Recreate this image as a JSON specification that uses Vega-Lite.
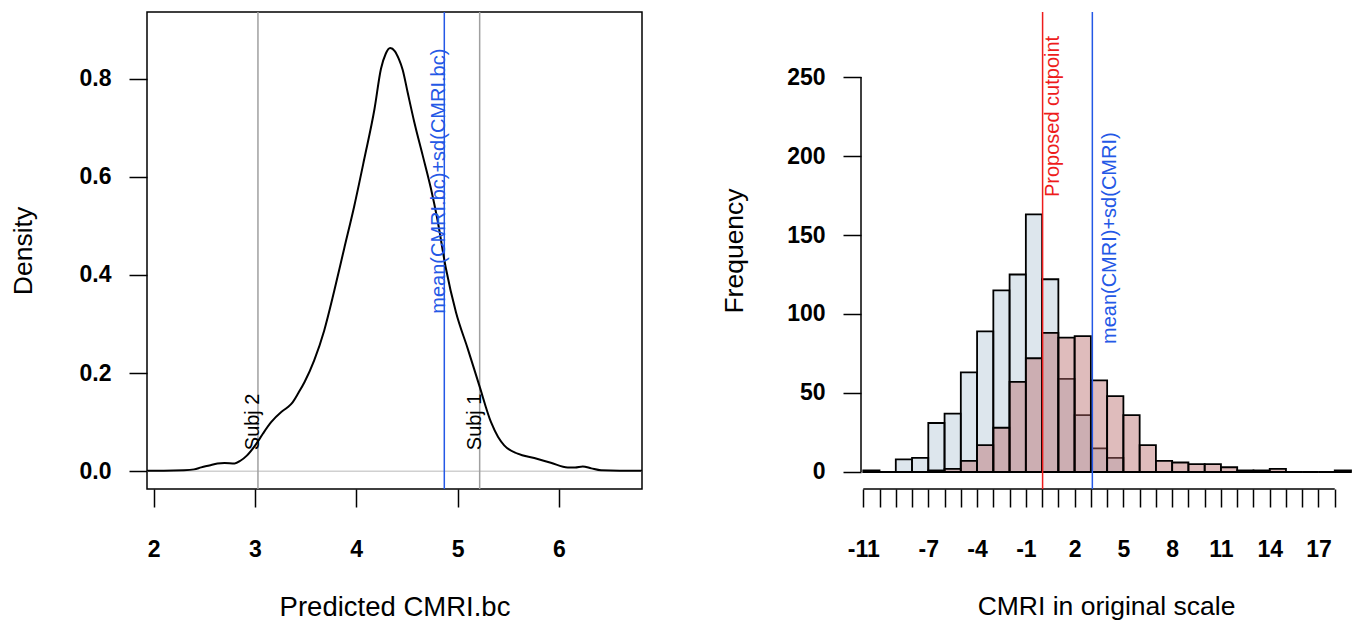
{
  "$schema": "https://vega.github.io/schema/vega-lite/v6.json",
  "padding": {"left": 9, "top": 10, "right": 0, "bottom": 0},
  "spacing": 74,
  "background": "white",
  "config": {
    "font": "Liberation Sans",
    "axis": {
      "labelFont": "Liberation Sans", "labelFontWeight": "bold", "labelFontSize": 23, "labelColor": "black",
      "titleFont": "Liberation Sans", "titleFontWeight": "normal", "titleFontSize": 26.5, "titleColor": "black",
      "tickColor": "black", "domainColor": "black", "tickSize": 18, "tickWidth": 1.5, "domainWidth": 1.5,
      "labelPadding": 18, "grid": false
    }
  },
  "datasets": {
    "density": [
      {"x": 1.935, "y": 0.001}, {"x": 2.1, "y": 0.001}, {"x": 2.3, "y": 0.002}, {"x": 2.4, "y": 0.004},
      {"x": 2.47, "y": 0.008}, {"x": 2.55, "y": 0.012}, {"x": 2.63, "y": 0.016}, {"x": 2.7, "y": 0.017},
      {"x": 2.8, "y": 0.016}, {"x": 2.86, "y": 0.022}, {"x": 2.92, "y": 0.032}, {"x": 3.01, "y": 0.055},
      {"x": 3.08, "y": 0.077}, {"x": 3.16, "y": 0.1}, {"x": 3.26, "y": 0.121}, {"x": 3.32, "y": 0.13},
      {"x": 3.37, "y": 0.14}, {"x": 3.43, "y": 0.16}, {"x": 3.49, "y": 0.182}, {"x": 3.585, "y": 0.226},
      {"x": 3.684, "y": 0.287}, {"x": 3.78, "y": 0.365}, {"x": 3.88, "y": 0.453}, {"x": 3.98, "y": 0.54},
      {"x": 4.08, "y": 0.637}, {"x": 4.18, "y": 0.738}, {"x": 4.244, "y": 0.82}, {"x": 4.29, "y": 0.85},
      {"x": 4.335, "y": 0.862}, {"x": 4.38, "y": 0.856}, {"x": 4.42, "y": 0.84}, {"x": 4.458, "y": 0.818},
      {"x": 4.507, "y": 0.772}, {"x": 4.573, "y": 0.711}, {"x": 4.655, "y": 0.644}, {"x": 4.737, "y": 0.576},
      {"x": 4.8, "y": 0.514}, {"x": 4.885, "y": 0.413}, {"x": 4.984, "y": 0.324}, {"x": 5.1, "y": 0.25},
      {"x": 5.214, "y": 0.175}, {"x": 5.33, "y": 0.1}, {"x": 5.4, "y": 0.07}, {"x": 5.46, "y": 0.053},
      {"x": 5.593, "y": 0.036}, {"x": 5.757, "y": 0.027}, {"x": 5.92, "y": 0.0175}, {"x": 6.087, "y": 0.008},
      {"x": 6.16, "y": 0.008}, {"x": 6.235, "y": 0.01}, {"x": 6.32, "y": 0.006}, {"x": 6.415, "y": 0.002},
      {"x": 6.6, "y": 0.001}, {"x": 6.82, "y": 0.001}
    ],
    "zero": [{"y": 0}],
    "lvlines": [
      {"x": 3.03, "col": "#a0a0a0"},
      {"x": 5.218, "col": "#a0a0a0"},
      {"x": 4.869, "col": "#2458e6"}
    ],
    "ltext": [
      {"x": 3.03, "y": 0.043, "label": "Subj 2", "col": "black"},
      {"x": 5.218, "y": 0.043, "label": "Subj 1", "col": "black"},
      {"x": 4.869, "y": 0.321, "label": "mean(CMRI.bc)+sd(CMRI.bc)", "col": "#2458e6"}
    ],
    "hist": [
      {"x": -11, "x2": -10, "y": 1, "g": "all"}, {"x": -10, "x2": -9, "y": 0, "g": "all"},
      {"x": -9, "x2": -8, "y": 8, "g": "all"}, {"x": -8, "x2": -7, "y": 9, "g": "all"},
      {"x": -7, "x2": -6, "y": 31, "g": "all"}, {"x": -6, "x2": -5, "y": 37, "g": "all"},
      {"x": -5, "x2": -4, "y": 63, "g": "all"}, {"x": -4, "x2": -3, "y": 89, "g": "all"},
      {"x": -3, "x2": -2, "y": 115, "g": "all"}, {"x": -2, "x2": -1, "y": 125, "g": "all"},
      {"x": -1, "x2": 0, "y": 163, "g": "all"}, {"x": 0, "x2": 1, "y": 122, "g": "all"},
      {"x": 1, "x2": 2, "y": 59, "g": "all"}, {"x": 2, "x2": 3, "y": 36, "g": "all"},
      {"x": 3, "x2": 4, "y": 15, "g": "all"}, {"x": 4, "x2": 5, "y": 9, "g": "all"},
      {"x": 5, "x2": 6, "y": 0, "g": "all"}, {"x": 6, "x2": 7, "y": 0, "g": "all"},
      {"x": 7, "x2": 8, "y": 0, "g": "all"}, {"x": 8, "x2": 9, "y": 0, "g": "all"},
      {"x": 9, "x2": 10, "y": 0, "g": "all"}, {"x": 10, "x2": 11, "y": 0, "g": "all"},
      {"x": 11, "x2": 12, "y": 0, "g": "all"}, {"x": 12, "x2": 13, "y": 0, "g": "all"},
      {"x": 13, "x2": 14, "y": 0, "g": "all"}, {"x": 14, "x2": 15, "y": 0, "g": "all"},
      {"x": 15, "x2": 16, "y": 0, "g": "all"}, {"x": 16, "x2": 17, "y": 0, "g": "all"},
      {"x": 17, "x2": 18, "y": 0, "g": "all"}, {"x": 18, "x2": 19, "y": 0, "g": "all"},
      {"x": -11, "x2": -10, "y": 0, "g": "pred"}, {"x": -10, "x2": -9, "y": 0, "g": "pred"},
      {"x": -9, "x2": -8, "y": 0, "g": "pred"}, {"x": -8, "x2": -7, "y": 0, "g": "pred"},
      {"x": -7, "x2": -6, "y": 1, "g": "pred"}, {"x": -6, "x2": -5, "y": 2, "g": "pred"},
      {"x": -5, "x2": -4, "y": 7, "g": "pred"}, {"x": -4, "x2": -3, "y": 17, "g": "pred"},
      {"x": -3, "x2": -2, "y": 28, "g": "pred"}, {"x": -2, "x2": -1, "y": 57, "g": "pred"},
      {"x": -1, "x2": 0, "y": 72, "g": "pred"}, {"x": 0, "x2": 1, "y": 88, "g": "pred"},
      {"x": 1, "x2": 2, "y": 85, "g": "pred"}, {"x": 2, "x2": 3, "y": 86, "g": "pred"},
      {"x": 3, "x2": 4, "y": 58, "g": "pred"}, {"x": 4, "x2": 5, "y": 48, "g": "pred"},
      {"x": 5, "x2": 6, "y": 36, "g": "pred"}, {"x": 6, "x2": 7, "y": 17, "g": "pred"},
      {"x": 7, "x2": 8, "y": 7, "g": "pred"}, {"x": 8, "x2": 9, "y": 6, "g": "pred"},
      {"x": 9, "x2": 10, "y": 5, "g": "pred"}, {"x": 10, "x2": 11, "y": 5, "g": "pred"},
      {"x": 11, "x2": 12, "y": 3, "g": "pred"}, {"x": 12, "x2": 13, "y": 1, "g": "pred"},
      {"x": 13, "x2": 14, "y": 1, "g": "pred"}, {"x": 14, "x2": 15, "y": 2, "g": "pred"},
      {"x": 15, "x2": 16, "y": 0, "g": "pred"}, {"x": 16, "x2": 17, "y": 0, "g": "pred"},
      {"x": 17, "x2": 18, "y": 0, "g": "pred"}, {"x": 18, "x2": 19, "y": 1, "g": "pred"}
    ],
    "yaxisline": [{"x": -11.14, "y": 0, "y2": 250}],
    "xaxisline": [{"x": -11, "x2": 18, "y": -10.76}],
    "rvlines": [
      {"x": 0.03, "col": "#ee1c1c"},
      {"x": 3.09, "col": "#2458e6"}
    ],
    "rtext1": [{"x": 0.03, "y": 174, "label": "Proposed cutpoint", "col": "#ee1c1c"}],
    "rtext2": [{"x": 3.09, "y": 81, "label": "mean(CMRI)+sd(CMRI)", "col": "#2458e6"}]
  },
  "hconcat": [
    {
      "width": 495,
      "height": 477,
      "view": {"stroke": "black", "strokeWidth": 1.5},
      "layer": [
        {
          "data": {"name": "zero"},
          "mark": {"type": "rule", "color": "#d0d0d0", "strokeWidth": 1.5},
          "encoding": {"y": {"field": "y", "type": "quantitative"}}
        },
        {
          "data": {"name": "lvlines"},
          "mark": {"type": "rule", "strokeWidth": 1.5},
          "encoding": {
            "x": {"field": "x", "type": "quantitative"},
            "color": {"field": "col", "type": "nominal", "scale": null}
          }
        },
        {
          "data": {"name": "density"},
          "mark": {"type": "line", "color": "black", "strokeWidth": 2, "interpolate": "monotone"},
          "encoding": {
            "x": {
              "field": "x", "type": "quantitative", "title": "Predicted CMRI.bc",
              "scale": {"domain": [1.935, 6.82], "nice": false, "zero": false},
              "axis": {"values": [2, 3, 4, 5, 6], "tickCount": 20, "format": "d", "domain": false, "labelPadding": 31, "titlePadding": 32, "titleFontSize": 27.5}
            },
            "y": {
              "field": "y", "type": "quantitative", "title": "Density",
              "scale": {"domain": [-0.036, 0.9355], "nice": false, "zero": false},
              "axis": {"values": [0, 0.2, 0.4, 0.6, 0.8], "tickCount": 20, "format": ".1f", "domain": false, "titlePadding": 42}
            }
          }
        },
        {
          "data": {"name": "ltext"},
          "mark": {"type": "text", "angle": 270, "align": "left", "baseline": "alphabetic", "fontSize": 20, "dy": 1},
          "encoding": {
            "x": {"field": "x", "type": "quantitative"},
            "y": {"field": "y", "type": "quantitative"},
            "text": {"field": "label"},
            "color": {"field": "col", "type": "nominal", "scale": null}
          }
        }
      ]
    },
    {
      "width": 490,
      "height": 477,
      "view": {"stroke": null},
      "layer": [
        {
          "data": {"name": "hist"},
          "mark": {"type": "rect", "stroke": "black", "strokeWidth": 1.8, "fillOpacity": 0.45, "strokeOpacity": 1},
          "encoding": {
            "x": {
              "field": "x", "type": "quantitative", "title": "CMRI in original scale",
              "scale": {"domain": [-11.14, 19], "nice": false, "zero": false},
              "axis": {
                "values": [-11, -10, -9, -8, -7, -6, -5, -4, -3, -2, -1, 0, 1, 2, 3, 4, 5, 6, 7, 8, 9, 10, 11, 12, 13, 14, 15, 16, 17, 18],
                "tickCount": 60,
                "labelExpr": "indexof([-11, -7, -4, -1, 2, 5, 8, 11, 14, 17], datum.value) >= 0 ? '' + datum.value : ''",
                "labelOverlap": false, "domain": false, "labelPadding": 31, "titlePadding": 32
              }
            },
            "x2": {"field": "x2"},
            "y": {
              "field": "y", "type": "quantitative", "title": "Frequency",
              "scale": {"domain": [-10.76, 291.14], "nice": false, "zero": false},
              "axis": {"values": [0, 50, 100, 150, 200, 250], "tickCount": 20, "domain": false, "titlePadding": 38}
            },
            "y2": {"datum": 0},
            "color": {"field": "g", "type": "nominal", "scale": {"domain": ["all", "pred"], "range": ["#b4c8d8", "#b86a6a"]}, "legend": null}
          }
        },
        {
          "data": {"name": "yaxisline"},
          "mark": {"type": "rule", "color": "black", "strokeWidth": 1.5},
          "encoding": {
            "x": {"field": "x", "type": "quantitative"},
            "y": {"field": "y", "type": "quantitative"},
            "y2": {"field": "y2"}
          }
        },
        {
          "data": {"name": "xaxisline"},
          "mark": {"type": "rule", "color": "black", "strokeWidth": 1.5},
          "encoding": {
            "x": {"field": "x", "type": "quantitative"},
            "x2": {"field": "x2"},
            "y": {"field": "y", "type": "quantitative"}
          }
        },
        {
          "data": {"name": "rvlines"},
          "mark": {"type": "rule", "strokeWidth": 1.5},
          "encoding": {
            "x": {"field": "x", "type": "quantitative"},
            "color": {"field": "col", "type": "nominal", "scale": null}
          }
        },
        {
          "data": {"name": "rtext1"},
          "mark": {"type": "text", "angle": 270, "align": "left", "baseline": "alphabetic", "fontSize": 20, "dy": 16},
          "encoding": {
            "x": {"field": "x", "type": "quantitative"},
            "y": {"field": "y", "type": "quantitative"},
            "text": {"field": "label"},
            "color": {"field": "col", "type": "nominal", "scale": null}
          }
        },
        {
          "data": {"name": "rtext2"},
          "mark": {"type": "text", "angle": 270, "align": "left", "baseline": "alphabetic", "fontSize": 20, "dy": 24},
          "encoding": {
            "x": {"field": "x", "type": "quantitative"},
            "y": {"field": "y", "type": "quantitative"},
            "text": {"field": "label"},
            "color": {"field": "col", "type": "nominal", "scale": null}
          }
        }
      ]
    }
  ]
}
